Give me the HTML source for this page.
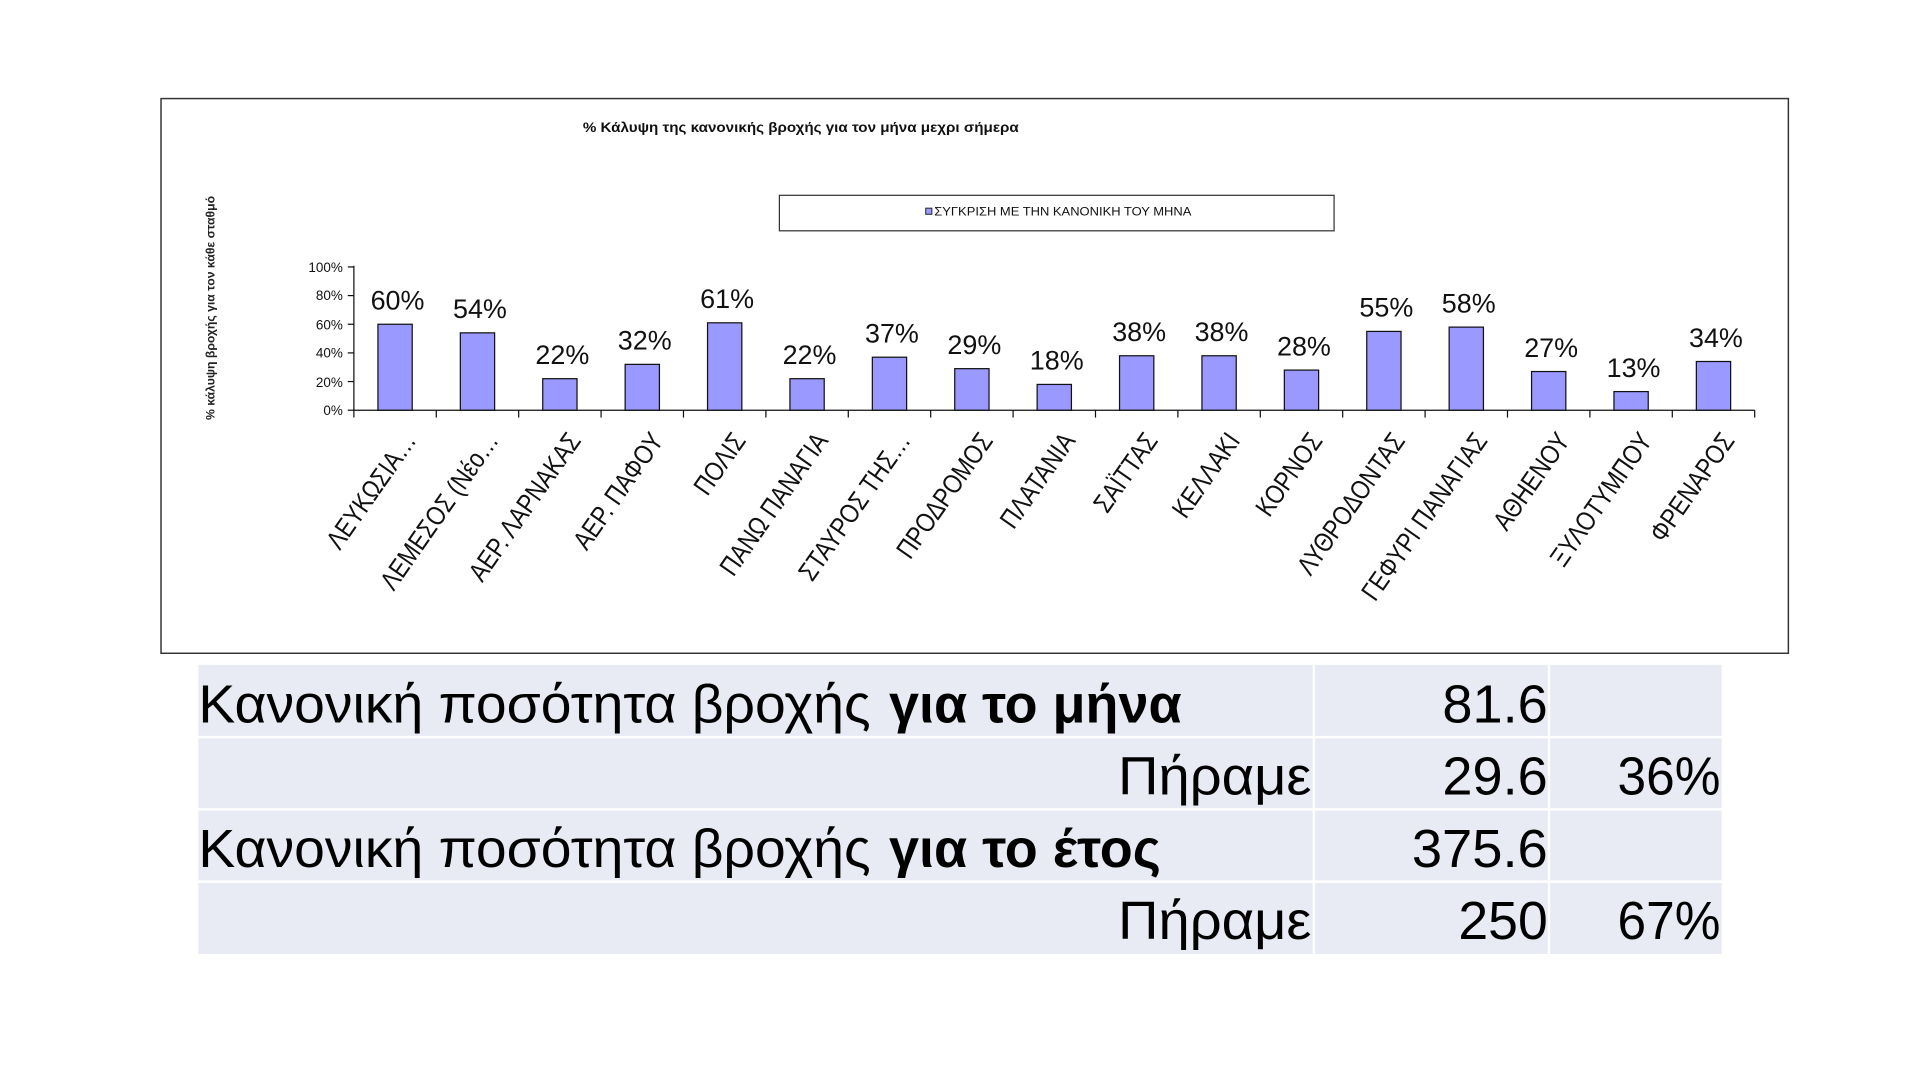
<!DOCTYPE html>
<html><head><meta charset="utf-8"><style>
html,body{margin:0;padding:0;background:#fff;width:1920px;height:1080px;overflow:hidden}
svg{display:block}
text{font-family:"Liberation Sans","DejaVu Sans",sans-serif}
</style></head><body>
<svg width="1920" height="1080" viewBox="0 0 1568 882" preserveAspectRatio="none" xmlns="http://www.w3.org/2000/svg">
<rect x="131.5" y="80.5" width="1329" height="453" fill="#fff" stroke="#333" stroke-width="1.2"/>
<text x="476" y="108" font-size="11" font-weight="bold" fill="#111" textLength="356" lengthAdjust="spacingAndGlyphs">% Κάλυψη της κανονικής βροχής για τον μήνα μεχρι σήμερα</text>
<rect x="636.5" y="159.5" width="453" height="29" fill="#fff" stroke="#333" stroke-width="1"/>
<rect x="756" y="170" width="5" height="5" fill="#9999ff" stroke="#222" stroke-width="0.8"/>
<text x="763" y="176" font-size="9.5" fill="#111" textLength="210" lengthAdjust="spacingAndGlyphs">ΣΥΓΚΡΙΣΗ ΜΕ ΤΗΝ  ΚΑΝΟΝΙΚΗ ΤΟΥ ΜΗΝΑ</text>
<text transform="translate(175,343) rotate(-90)" font-size="9.5" font-weight="bold" fill="#222" textLength="183" lengthAdjust="spacingAndGlyphs">% κάλυψη βροχής για τον κάθε σταθμό</text>
<g font-size="11" text-anchor="end" fill="#111">
<text x="280" y="222">100%</text><text x="280" y="245">80%</text><text x="280" y="269">60%</text>
<text x="280" y="292">40%</text><text x="280" y="316">20%</text><text x="280" y="339">0%</text>
</g>
<g stroke="#111" stroke-width="1">
<line x1="289" y1="217" x2="289" y2="341"/>
<line x1="284" y1="218" x2="289" y2="218"/><line x1="284" y1="241.4" x2="289" y2="241.4"/>
<line x1="284" y1="264.8" x2="289" y2="264.8"/><line x1="284" y1="288.2" x2="289" y2="288.2"/>
<line x1="284" y1="311.6" x2="289" y2="311.6"/><line x1="284" y1="335" x2="289" y2="335"/>
<line x1="289" y1="335" x2="1433" y2="335"/>
</g>
<g id="bars"></g>
<g id="ticks" stroke="#111" stroke-width="1"></g>
<g id="vals" font-size="22" text-anchor="middle" fill="#111"></g>
<g id="cats" font-size="20" text-anchor="end" fill="#111"></g>

<rect x="162" y="543" width="1244" height="236" fill="#e8eaf4"/>
<g stroke="#fff" stroke-width="2">
<line x1="162" y1="602" x2="1406" y2="602"/><line x1="162" y1="661" x2="1406" y2="661"/><line x1="162" y1="720" x2="1406" y2="720"/>
<line x1="1073" y1="543" x2="1073" y2="779"/><line x1="1265" y1="543" x2="1265" y2="779"/>
</g>
<g font-size="44" fill="#000">
<text x="162" y="590" textLength="549" lengthAdjust="spacingAndGlyphs">Κανονική ποσότητα βροχής</text>
<text x="726" y="590" font-weight="bold" textLength="239" lengthAdjust="spacingAndGlyphs">για το μήνα</text>
<text x="1264" y="590" text-anchor="end" textLength="86" lengthAdjust="spacingAndGlyphs">81.6</text>
<text x="1071" y="649" text-anchor="end" textLength="158" lengthAdjust="spacingAndGlyphs">Πήραμε</text>
<text x="1264" y="649" text-anchor="end" textLength="86" lengthAdjust="spacingAndGlyphs">29.6</text>
<text x="1405" y="649" text-anchor="end" textLength="84" lengthAdjust="spacingAndGlyphs">36%</text>
<text x="162" y="708" textLength="549" lengthAdjust="spacingAndGlyphs">Κανονική ποσότητα βροχής</text>
<text x="726" y="708" font-weight="bold" textLength="222" lengthAdjust="spacingAndGlyphs">για το έτος</text>
<text x="1264" y="708" text-anchor="end" textLength="111" lengthAdjust="spacingAndGlyphs">375.6</text>
<text x="1071" y="767" text-anchor="end" textLength="158" lengthAdjust="spacingAndGlyphs">Πήραμε</text>
<text x="1264" y="767" text-anchor="end" textLength="73" lengthAdjust="spacingAndGlyphs">250</text>
<text x="1405" y="767" text-anchor="end" textLength="84" lengthAdjust="spacingAndGlyphs">67%</text>
</g>
</svg>
<script>
var vals=[60,54,22,32,61,22,37,29,18,38,38,28,55,58,27,13,34];
var cats=["ΛΕΥΚΩΣΙΑ…","ΛΕΜΕΣΟΣ (Νέο…","ΑΕΡ. ΛΑΡΝΑΚΑΣ","ΑΕΡ.  ΠΑΦΟΥ","ΠΟΛΙΣ","ΠΑΝΩ ΠΑΝΑΓΙΑ","ΣΤΑΥΡΟΣ ΤΗΣ…","ΠΡΟΔΡΟΜΟΣ","ΠΛΑΤΑΝΙΑ","ΣΑΪΤΤΑΣ","ΚΕΛΛΑΚΙ","ΚΟΡΝΟΣ","ΛΥΘΡΟΔΟΝΤΑΣ","ΓΕΦΥΡΙ ΠΑΝΑΓΙΑΣ","ΑΘΗΕΝΟΥ","ΞΥΛΟΤΥΜΠΟΥ","ΦΡΕΝΑΡΟΣ"];
var ns="http://www.w3.org/2000/svg",w=(1433-289)/17;
function el(t,a,p,txt){var e=document.createElementNS(ns,t);for(var k in a)e.setAttribute(k,a[k]);if(txt)e.textContent=txt;document.getElementById(p).appendChild(e);}
for(var i=0;i<17;i++){var cx=289+w*(i+0.5),h=vals[i]*1.17;
el("rect",{x:cx-14,y:335-h,width:28,height:h,fill:"#9999ff",stroke:"#111","stroke-width":1},"bars");
el("line",{x1:289+w*(i+1),y1:335,x2:289+w*(i+1),y2:341},"ticks");
el("text",{x:cx+2,y:335-h-12},"vals",vals[i]+"%");
el("text",{transform:"translate("+(cx+18)+",360) rotate(-55) scale(0.92,1.1)"},"cats",cats[i]);}
</script>
</body></html>
